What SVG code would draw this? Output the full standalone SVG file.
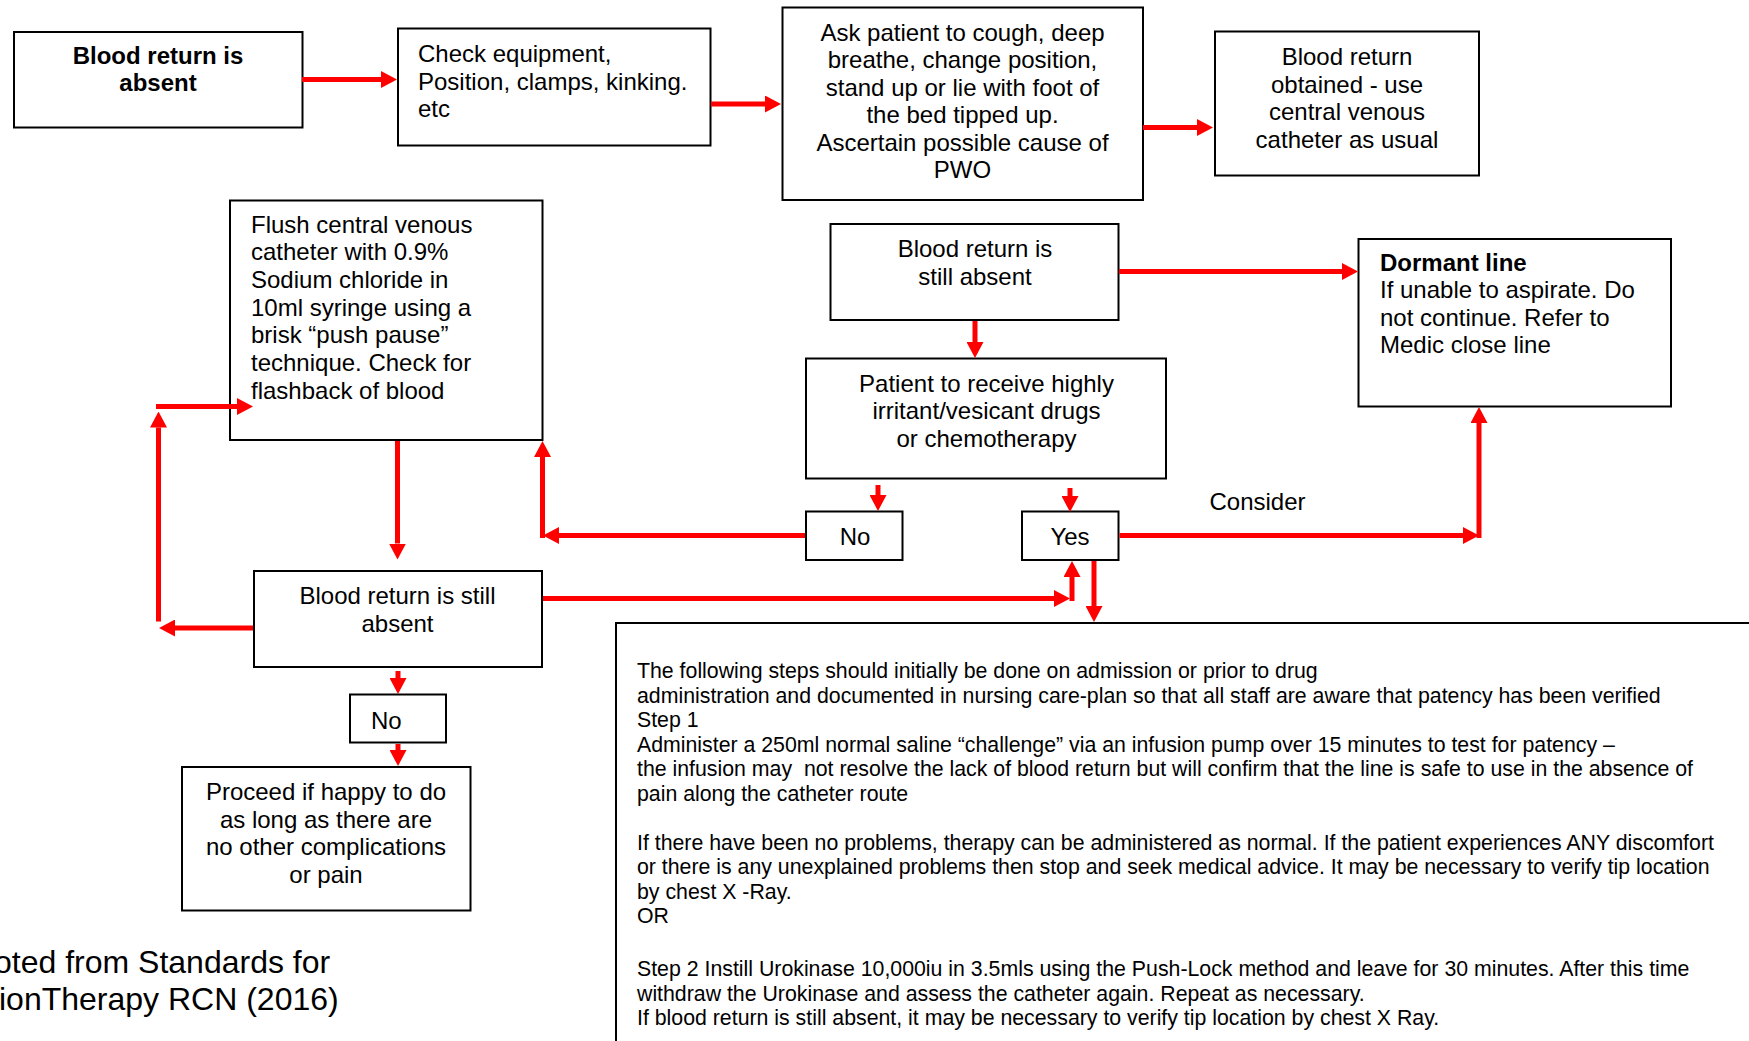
<svg xmlns="http://www.w3.org/2000/svg" width="1749" height="1041" viewBox="0 0 1749 1041">
<style>
.box{fill:#fff;stroke:#000;stroke-width:2}
.t{font-family:"Liberation Sans",Arial,sans-serif;font-size:24px;fill:#000}
.c{text-anchor:middle}
.b{font-weight:bold}
.s{font-family:"Liberation Sans",Arial,sans-serif;font-size:21.3px;fill:#000}
.f{font-family:"Liberation Sans",Arial,sans-serif;font-size:32px;fill:#000}
.cn{stroke:#ff0000;stroke-width:5;fill:none;marker-end:url(#ah)}
</style>
<defs>
<marker id="ah" markerUnits="userSpaceOnUse" markerWidth="16" markerHeight="17" viewBox="0 0 16 17" refX="0" refY="8.5" orient="auto">
<path d="M0,0 L16,8.5 L0,17 z" fill="#ff0000"/>
</marker>
</defs>
<rect width="1749" height="1041" fill="#fff"/>

<g id="n-absent">
<rect class="box" x="14" y="32" width="288.5" height="95.5"/>
<text class="t c b" x="158" y="63.5">Blood return is</text>
<text class="t c b" x="158" y="91">absent</text>
</g>

<g id="n-check">
<rect class="box" x="398" y="28.5" width="312.5" height="117"/>
<text class="t" x="418" y="62">Check equipment,</text>
<text class="t" x="418" y="89.5">Position, clamps, kinking.</text>
<text class="t" x="418" y="117">etc</text>
</g>

<g id="n-ask">
<rect class="box" x="782.5" y="7.5" width="360.5" height="192.5"/>
<text class="t c" x="962.5" y="40.7">Ask patient to cough, deep</text>
<text class="t c" x="962.5" y="68.2">breathe, change position,</text>
<text class="t c" x="962.5" y="95.7">stand up or lie with foot of</text>
<text class="t c" x="962.5" y="123.2">the bed tipped up.</text>
<text class="t c" x="962.5" y="150.7">Ascertain possible cause of</text>
<text class="t c" x="962.5" y="178.2">PWO</text>
</g>

<g id="n-obtained">
<rect class="box" x="1215" y="31.5" width="264" height="144"/>
<text class="t c" x="1347" y="65">Blood return</text>
<text class="t c" x="1347" y="92.5">obtained - use</text>
<text class="t c" x="1347" y="120">central venous</text>
<text class="t c" x="1347" y="147.5">catheter as usual</text>
</g>

<g id="n-flush">
<rect class="box" x="230" y="200.5" width="312.5" height="239.5"/>
<text class="t" x="251" y="232.7">Flush central venous</text>
<text class="t" x="251" y="260.3">catheter with 0.9%</text>
<text class="t" x="251" y="288">Sodium chloride in</text>
<text class="t" x="251" y="315.6">10ml syringe using a</text>
<text class="t" x="251" y="343.2">brisk “push pause”</text>
<text class="t" x="251" y="370.8">technique. Check for</text>
<text class="t" x="251" y="398.5">flashback of blood</text>
</g>

<g id="n-still-absent-1">
<rect class="box" x="830.5" y="224" width="288" height="96"/>
<text class="t c" x="975" y="257">Blood return is</text>
<text class="t c" x="975" y="284.5">still absent</text>
</g>

<g id="n-dormant">
<rect class="box" x="1358.5" y="239" width="312.5" height="167.5"/>
<text class="t b" x="1380" y="270.5">Dormant line</text>
<text class="t" x="1380" y="298">If unable to aspirate. Do</text>
<text class="t" x="1380" y="325.5">not continue. Refer to</text>
<text class="t" x="1380" y="353">Medic close line</text>
</g>

<g id="n-patient">
<rect class="box" x="806" y="358.5" width="360" height="120"/>
<text class="t c" x="986.5" y="391.5">Patient to receive highly</text>
<text class="t c" x="986.5" y="419">irritant/vesicant drugs</text>
<text class="t c" x="986.5" y="446.5">or chemotherapy</text>
</g>

<g id="n-no-1">
<rect class="box" x="806" y="511.5" width="96.5" height="48.5"/>
<text class="t c" x="855" y="545">No</text>
</g>

<g id="n-yes">
<rect class="box" x="1022" y="511.5" width="96.5" height="48.5"/>
<text class="t c" x="1070" y="545">Yes</text>
</g>

<g id="l-consider">
<text class="t" x="1209.5" y="510">Consider</text>
</g>

<g id="n-still-absent-2">
<rect class="box" x="254" y="571" width="288" height="96"/>
<text class="t c" x="397.5" y="603.5">Blood return is still</text>
<text class="t c" x="397.5" y="631.5">absent</text>
</g>

<g id="n-no-2">
<rect class="box" x="350" y="694.5" width="96" height="48"/>
<text class="t" x="371" y="728.5">No</text>
</g>

<g id="n-proceed">
<rect class="box" x="182" y="767" width="288.5" height="143.5"/>
<text class="t c" x="326" y="800">Proceed if happy to do</text>
<text class="t c" x="326" y="827.5">as long as there are</text>
<text class="t c" x="326" y="855">no other complications</text>
<text class="t c" x="326" y="882.5">or pain</text>
</g>

<g id="n-steps">
<rect class="box" x="616" y="623" width="1300" height="500"/>
<text class="s" x="637" y="678">The following steps should initially be done on admission or prior to drug</text>
<text class="s" x="637" y="702.5">administration and documented in nursing care-plan so that all staff are aware that patency has been verified</text>
<text class="s" x="637" y="727">Step 1</text>
<text class="s" x="637" y="751.5">Administer a 250ml normal saline “challenge” via an infusion pump over 15 minutes to test for patency –</text>
<text class="s" x="637" y="776" xml:space="preserve">the infusion may  not resolve the lack of blood return but will confirm that the line is safe to use in the absence of</text>
<text class="s" x="637" y="800.6">pain along the catheter route</text>
<text class="s" x="637" y="849.7">If there have been no problems, therapy can be administered as normal. If the patient experiences ANY discomfort</text>
<text class="s" x="637" y="874.2">or there is any unexplained problems then stop and seek medical advice. It may be necessary to verify tip location</text>
<text class="s" x="637" y="898.7">by chest X -Ray.</text>
<text class="s" x="637" y="923.3">OR</text>
<text class="s" x="637" y="976">Step 2 Instill Urokinase 10,000iu in 3.5mls using the Push-Lock method and leave for 30 minutes. After this time</text>
<text class="s" x="637" y="1000.5">withdraw the Urokinase and assess the catheter again. Repeat as necessary.</text>
<text class="s" x="637" y="1025">If blood return is still absent, it may be necessary to verify tip location by chest X Ray.</text>
</g>

<g id="footer">
<text class="f" x="-6" y="973">oted from Standards for</text>
<text class="f" x="-1" y="1010">ionTherapy RCN (2016)</text>
</g>

<g id="connectors">
<line class="cn" x1="302" y1="79.5" x2="381" y2="79.5"/>
<line class="cn" x1="711" y1="104" x2="765" y2="104"/>
<line class="cn" x1="1143" y1="127.5" x2="1197" y2="127.5"/>
<line class="cn" x1="1119" y1="271.5" x2="1342" y2="271.5"/>
<line class="cn" x1="975" y1="321" x2="975" y2="342"/>
<line class="cn" x1="878" y1="485" x2="878" y2="495"/>
<line class="cn" x1="1070" y1="488" x2="1070" y2="496"/>
<line class="cn" x1="805" y1="535.5" x2="559" y2="535.5"/>
<line class="cn" x1="542.5" y1="538" x2="542.5" y2="457"/>
<line class="cn" x1="397.5" y1="441" x2="397.5" y2="543.5"/>
<line class="cn" x1="253" y1="628" x2="175" y2="628"/>
<line class="cn" x1="158.5" y1="621.5" x2="158.5" y2="427.5"/>
<line class="cn" x1="156" y1="406.5" x2="237" y2="406.5"/>
<line class="cn" x1="543" y1="598.5" x2="1054" y2="598.5"/>
<line class="cn" x1="1072" y1="601" x2="1072" y2="577"/>
<line class="cn" x1="1094" y1="561" x2="1094" y2="606"/>
<line class="cn" x1="1119.5" y1="535.5" x2="1463" y2="535.5"/>
<line class="cn" x1="1479" y1="538" x2="1479" y2="423"/>
<line class="cn" x1="398" y1="671" x2="398" y2="678"/>
<line class="cn" x1="398" y1="744" x2="398" y2="750"/>
</g>
</svg>
